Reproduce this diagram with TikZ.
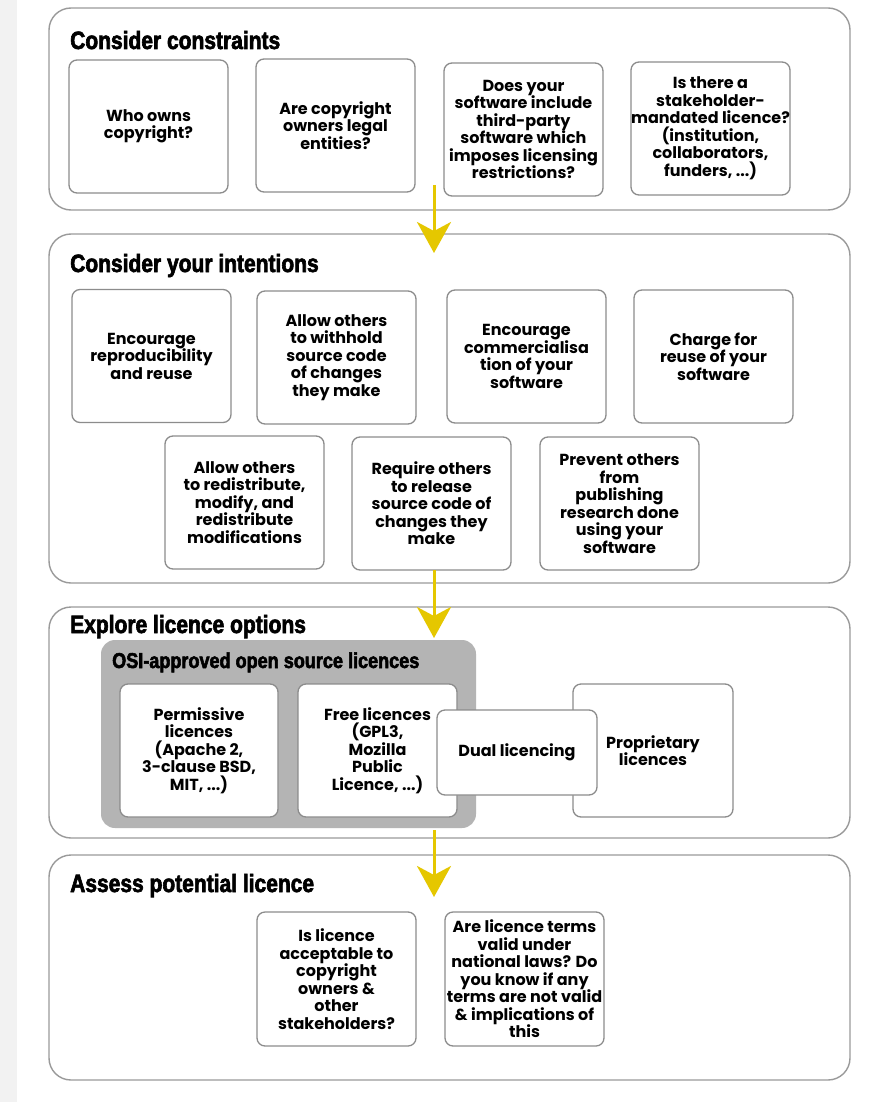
\documentclass[tikz,border=0pt]{standalone}
\usepackage{fontspec}
\setmainfont{Poppins}
\newfontfamily\titlefont[FakeStretch=0.84,FakeBold=2.5]{Liberation Sans}
\usetikzlibrary{arrows.meta}
\definecolor{panelgray}{HTML}{9A9A9A}
\definecolor{boxgray}{HTML}{8C8C8C}
\definecolor{osigray}{HTML}{B4B4B4}
\definecolor{stripgray}{HTML}{F2F2F2}
\definecolor{flowyellow}{HTML}{E5C700}
\tikzset{
  panel/.style={draw=panelgray, line width=1.4pt, rounded corners=22pt, fill=white, inner sep=0pt},
  bx/.style={draw=boxgray, line width=1.3pt, rounded corners=8pt, fill=white, inner sep=0pt,
    minimum width=159pt, minimum height=133pt, align=center,
    font=\fontsize{16}{17.5}\selectfont\bfseries},
  ptitle/.style={anchor=base west, inner sep=0pt, font=\fontsize{25}{28}\selectfont\titlefont\bfseries},
  otitle/.style={anchor=base west, inner sep=0pt, font=\fontsize{21.5}{24}\selectfont\titlefont\bfseries},
  osibox/.style={fill=osigray, rounded corners=14pt, inner sep=0pt, minimum width=375pt, minimum height=188pt},
  flow/.style={draw=flowyellow, line width=3pt, -{Stealth[length=31pt,width=34pt,inset=9pt]}}
}
\begin{document}
\begin{tikzpicture}[x=1pt,y=-1pt]
\useasboundingbox (0,0) rectangle (884,1102);
\fill[white] (0,0) rectangle (884,1102);
\fill[stripgray] (0,0) rectangle (17,1102);

% panels
\node[panel, minimum width=801pt, minimum height=202pt] (p1) at (449.5,109) {};
\node[panel, minimum width=801pt, minimum height=349pt] (p2) at (449.5,408.5) {};
\node[panel, minimum width=801pt, minimum height=231pt] (p3) at (449.5,722.5) {};
\node[panel, minimum width=801pt, minimum height=225pt] (p4) at (449.5,967.5) {};

\node[ptitle] (t1) at (70,49) {Consider constraints};
\node[ptitle] (t2) at (70,272) {Consider your intentions};
\node[ptitle] (t3) at (70,633) {Explore licence options};
\node[ptitle] (t4) at (70,892) {Assess potential licence};

% panel 1
\node[bx] (b11) at (148.5,126.5) {Who owns\\copyright?};
\node[bx] (b12) at (335.5,125.5) {Are copyright\\owners legal\\entities?};
\node[bx] (b13) at (523.5,129.5) {Does your\\software include\\third-party\\software which\\imposes licensing\\restrictions?};
\node[bx] (b14) at (710.5,128.5) {Is there a\\stakeholder-\\mandated licence?\\(institution,\\collaborators,\\funders, ...)};

% panel 2
\node[bx] (b21) at (151.5,356) {Encourage\\reproducibility\\and reuse};
\node[bx] (b22) at (336.5,357.5) {Allow others\\to withhold\\source code\\of changes\\they make};
\node[bx] (b23) at (526.5,356.5) {Encourage\\commercialisa\\tion of your\\software};
\node[bx] (b24) at (713.5,356.5) {Charge for\\reuse of your\\software};
\node[bx] (b25) at (244.5,502.5) {Allow others\\to redistribute,\\modify, and\\redistribute\\modifications};
\node[bx] (b26) at (431.5,503.5) {Require others\\to release\\source code of\\changes they\\make};
\node[bx] (b27) at (619.5,503.5) {Prevent others\\from\\publishing\\research done\\using your\\software};

% panel 3
\node[osibox] (osi) at (288.5,734) {};
\node[otitle] (to) at (112,668) {OSI-approved open source licences};
\node[bx, minimum width=158pt] (b31) at (199,750.5) {Permissive\\licences\\(Apache 2,\\3-clause BSD,\\MIT, ...)};
\node[bx] (b32) at (377.5,750.5) {Free licences\\(GPL3,\\Mozilla\\Public\\Licence, ...)};
\node[bx, minimum width=160pt] (b34) at (653,750.5) {Proprietary\\licences};
\node[bx, minimum width=160pt, minimum height=85pt] (b33) at (517,752.5) {Dual licencing};

% panel 4
\node[bx, minimum height=134pt] (b41) at (336.5,979) {Is licence\\acceptable to\\copyright\\owners \&\\other\\stakeholders?};
\node[bx, minimum height=134pt] (b42) at (524.5,979) {Are licence terms\\valid under\\national laws? Do\\you know if any\\terms are not valid\\\& implications of\\this};

% flow arrows
\coordinate (a1s) at (434,185);
\coordinate (a1e) at (434,253);
\coordinate (a2s) at (434,570);
\coordinate (a2e) at (434,638);
\coordinate (a3s) at (434,830);
\coordinate (a3e) at (434,897);
\draw[flow] (a1s) -- (a1e);
\draw[flow] (a2s) -- (a2e);
\draw[flow] (a3s) -- (a3e);
\end{tikzpicture}
\end{document}
